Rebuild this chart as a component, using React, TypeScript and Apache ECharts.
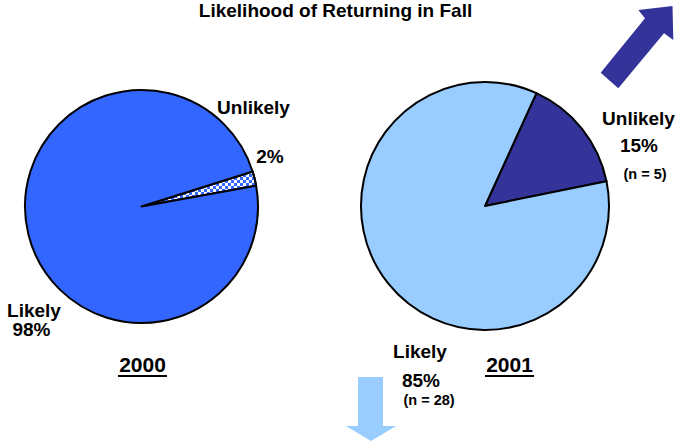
import React, { useEffect, useRef } from "react";
import * as echarts from "echarts";

const titleText = "Likelihood of Returning in Fall";
const years = ["2000", "2001"];
const categories = ["Unlikely", "Likely"];
const values2000 = [2, 98];
const values2001 = [15, 85];
const counts2001 = [5, 28];

const FONT = "'Liberation Sans', Arial, Helvetica, sans-serif";

export default function App() {
  const ref = useRef<HTMLDivElement>(null);
  useEffect(() => {
    document.body.style.margin = "0";
    const chart = echarts.init(ref.current!, null, { renderer: "svg" });
    const labelStyle = (size: number) => ({
      fontFamily: FONT,
      fontWeight: "bold",
      fontSize: size,
      fill: "#000",
      textAlign: "center",
      textVerticalAlign: "middle",
    });
    const txt = (x: number, y: number, text: string, size = 19) => ({
      type: "text",
      x,
      y,
      silent: true,
      style: { ...labelStyle(size), text },
    });
    chart.setOption({
      animation: false,
      backgroundColor: "#fff",
      series: [
        {
          type: "pie",
          center: [141.5, 206.5],
          radius: 116.5,
          startAngle: 17.5,
          clockwise: true,
          label: { show: false },
          labelLine: { show: false },
          emphasis: { disabled: true },
          itemStyle: { borderColor: "#000", borderWidth: 2 },
          data: [
            {
              name: categories[0],
              value: values2000[0],
              itemStyle: {
                color: "#ffffff",
                decal: {
                  symbol: "rect",
                  color: "#3366ff",
                  backgroundColor: "#ffffff",
                  symbolSize: 1,
                  dashArrayX: [[3, 3], [0, 3, 3, 0]],
                  dashArrayY: [3, 0],
                  rotation: 0,
                },
              },
            },
            { name: categories[1], value: values2000[1], itemStyle: { color: "#3366ff" } },
          ],
        },
        {
          type: "pie",
          center: [485, 206],
          radius: 124,
          startAngle: 65.5,
          clockwise: true,
          label: { show: false },
          labelLine: { show: false },
          emphasis: { disabled: true },
          itemStyle: { borderColor: "#000", borderWidth: 2 },
          data: [
            { name: categories[0], value: values2001[0], itemStyle: { color: "#333399" } },
            { name: categories[1], value: values2001[1], itemStyle: { color: "#99ccff" } },
          ],
        },
      ],
      graphic: [
        txt(335.5, 10.5, titleText, 19),
        txt(253.5, 107, categories[0]),
        txt(270, 156, `${values2000[0]}%`),
        txt(34, 310, categories[1]),
        txt(31.5, 329, `${values2000[1]}%`),
        txt(142.5, 364, years[0], 21),
        {
          type: "rect",
          silent: true,
          shape: { x: 118, y: 375, width: 49, height: 2 },
          style: { fill: "#000" },
        },
        txt(638.5, 118, categories[0]),
        txt(639, 145, `${values2001[0]}%`),
        txt(645, 174, `(n = ${counts2001[0]})`, 14.5),
        txt(420, 351.5, categories[1]),
        txt(421, 380, `${values2001[1]}%`),
        txt(429, 400, `(n = ${counts2001[1]})`, 14.5),
        txt(509.5, 364, years[1], 21),
        {
          type: "rect",
          silent: true,
          shape: { x: 485, y: 375, width: 49, height: 2 },
          style: { fill: "#000" },
        },
        {
          type: "polygon",
          silent: true,
          shape: {
            points: [
              [672.5, 6],
              [638.3, 10],
              [645, 18.3],
              [600.7, 72.7],
              [618.3, 88.3],
              [664, 33.3],
              [673.3, 40],
            ],
          },
          style: { fill: "#333399" },
        },
        {
          type: "polygon",
          silent: true,
          shape: {
            points: [
              [358, 377],
              [383, 377],
              [383, 426],
              [396, 426],
              [371, 441],
              [346, 426],
              [358, 426],
            ],
          },
          style: { fill: "#99ccff" },
        },
      ],
    });
    return () => chart.dispose();
  }, []);
  return (
    <div
      ref={ref}
      style={{ position: "absolute", left: 0, top: 0, width: 676, height: 445 }}
    />
  );
}
